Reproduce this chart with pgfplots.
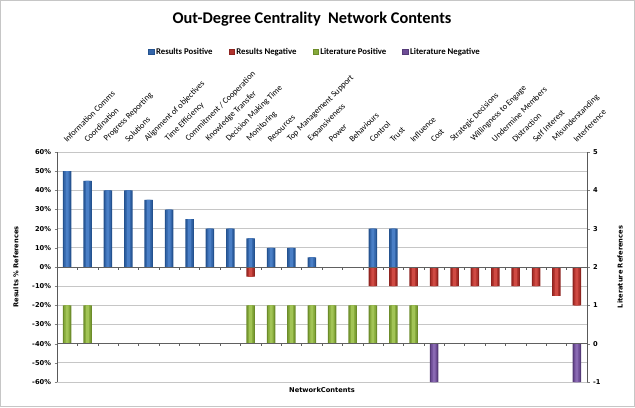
\documentclass[border=0pt]{standalone}
\usepackage{pgfplots}
\usepackage{pgfplotstable}
\pgfplotsset{compat=1.18}
\usepackage{fontspec}
\setmainfont{Carlito}
\newfontfamily\tickfont{DejaVu Sans}
\definecolor{BlueD}{HTML}{24528F}
\definecolor{BlueM}{HTML}{3466AA}
\definecolor{BlueL}{HTML}{4A7FC6}
\definecolor{RedD}{HTML}{8E2420}
\definecolor{RedM}{HTML}{B0332D}
\definecolor{RedL}{HTML}{CF4A43}
\definecolor{GreenD}{HTML}{6C8C2A}
\definecolor{GreenM}{HTML}{86AA3B}
\definecolor{GreenL}{HTML}{A2C456}
\definecolor{PurpleD}{HTML}{553B78}
\definecolor{PurpleM}{HTML}{6E4D96}
\definecolor{PurpleL}{HTML}{8A6AB3}
\pgfplotstableread{
x y
1 50
2 45
3 40
4 40
5 35
6 30
7 25
8 20
9 20
10 15
11 10
12 10
13 5
16 20
17 20
}\respos
\pgfplotstableread{
x y
10 -5
16 -10
17 -10
18 -10
19 -10
20 -10
21 -10
22 -10
23 -10
24 -10
25 -15
26 -20
}\resneg
\pgfplotstableread{
x y
1 1
2 1
10 1
11 1
12 1
13 1
14 1
15 1
16 1
17 1
18 1
}\litpos
\pgfplotstableread{
x y
19 -1
26 -1
}\litneg
\tikzset{lblfont/.style={font=\tickfont\bfseries\fontsize{6.7}{8}\selectfont}}
\pgfplotsset{
  barD/.style={ybar, bar width=8.5bp, bar shift=0pt, draw=none, fill=#1D, forget plot},
  barM/.style={ybar, bar width=6bp, bar shift=0pt, draw=none, fill=#1M, forget plot},
  barL/.style={ybar, bar width=3bp, bar shift=0pt, draw=none, fill=#1L, forget plot},
}
\begin{document}
\begin{tikzpicture}[x=1bp,y=1bp]
\useasboundingbox (0,0) rectangle (635,407);
\draw[gray!45, line width=1bp] (0.5,0.5) rectangle (634.5,406.5);
\node[font=\bfseries\fontsize{16.4}{18}\selectfont] at (312,388) {Out-Degree Centrality\ \ Network Contents};
\begin{axis}[
  at={(57bp,25bp)}, anchor=south west, scale only axis,
  width=530bp, height=230bp,
  xmin=0.5, xmax=26.5, ymin=-60, ymax=60,
  separate axis lines,
  x axis line style={draw=none},
  y axis line style={draw=gray!70!black},
  ytick pos=left, xtick pos=upper, xticklabel pos=upper,
  tick align=outside, major tick length=2.5bp,
  ytick={-60,-50,...,60},
  yticklabels={-60\%,-50\%,-40\%,-30\%,-20\%,-10\%,0\%,10\%,20\%,30\%,40\%,50\%,60\%},
  yticklabel style={lblfont},
  ymajorgrids, grid style={gray!45, line width=0.7bp},
  xtick={1,...,26},
  xticklabels={Information Comms,Coordination,Progress Reporting,Solutions,Alignment of objectives,Time Efficiency,Commitment / Cooperation,Knowledge Transfer,Decision Making Time,Monitoring,Resources,Top Management Support,Expansiveness,Power,Behaviours,Control,Trust,Influence,Cost,Strategic Decisions,Willingness to Engage,Undermine Members,Distraction,Self Interest,Misunderstanding,Interference},
  xticklabel style={yshift=5bp, rotate=45, anchor=south west, font=\fontsize{8.5}{9}\selectfont, inner sep=1bp},
  xtick style={draw=none},
  ylabel={Results \% References},
  ylabel style={lblfont, at={(axis description cs:-0.0774,0.5)}, anchor=center, rotate=0},
  xlabel={NetworkContents},
  xlabel style={lblfont, at={(axis description cs:0.5,-0.0348)}, anchor=center},
  legend columns=4,
  legend style={at={(0.4868,1.4348)}, anchor=center, draw=none, fill=none,
    font=\bfseries\fontsize{8.8}{10}\selectfont,
    /tikz/every even column/.append style={column sep=14bp}},
  legend image code/.code={\fill[#1] (0bp,-2.7bp) rectangle (5.4bp,2.7bp);},
]
\addlegendimage{fill=BlueM, draw=BlueD, line width=0.4bp}
\addlegendentry{Results Positive}
\addlegendimage{fill=RedM, draw=RedD, line width=0.4bp}
\addlegendentry{Results Negative}
\addlegendimage{fill=GreenM, draw=GreenD, line width=0.4bp}
\addlegendentry{Literature Positive}
\addlegendimage{fill=PurpleM, draw=PurpleD, line width=0.4bp}
\addlegendentry{Literature Negative}
\addplot[barD=Blue] table[x=x,y=y] {\respos};
\addplot[barM=Blue] table[x=x,y=y] {\respos};
\addplot[barL=Blue] table[x=x,y=y] {\respos};
\addplot[barD=Red] table[x=x,y=y] {\resneg};
\addplot[barM=Red] table[x=x,y=y] {\resneg};
\addplot[barL=Red] table[x=x,y=y] {\resneg};
\draw[gray!75!black, line width=0.7bp] (axis cs:0.5,0) -- (axis cs:26.5,0);
\pgfplotsinvokeforeach{1.5,2.5,...,25.5}{\draw[gray!75!black, line width=0.5bp] (axis cs:#1,0) -- ([yshift=-2.5bp]axis cs:#1,0);}
\end{axis}
\begin{axis}[
  at={(57bp,25bp)}, anchor=south west, scale only axis,
  width=530bp, height=230bp,
  xmin=0.5, xmax=26.5, ymin=-1, ymax=5,
  axis x line=none, axis y line*=right,
  y axis line style={draw=gray!70!black, -},
  tick align=outside, major tick length=2.5bp,
  ytick={-1,0,...,5},
  yticklabels={-1,0,1,2,3,4,5},
  yticklabel style={lblfont},
  ylabel={Literature References},
  ylabel style={lblfont, at={(axis description cs:1.0623,0.5)}, anchor=center, rotate=0},
]
\addplot[barD=Green] table[x=x,y=y] {\litpos};
\addplot[barM=Green] table[x=x,y=y] {\litpos};
\addplot[barL=Green] table[x=x,y=y] {\litpos};
\addplot[barD=Purple] table[x=x,y=y] {\litneg};
\addplot[barM=Purple] table[x=x,y=y] {\litneg};
\addplot[barL=Purple] table[x=x,y=y] {\litneg};
\draw[gray!75!black, line width=0.7bp] (axis cs:0.5,0) -- (axis cs:26.5,0);
\pgfplotsinvokeforeach{1.5,2.5,...,25.5}{\draw[gray!75!black, line width=0.5bp] (axis cs:#1,0) -- ([yshift=-2.5bp]axis cs:#1,0);}
\end{axis}
\end{tikzpicture}
\end{document}
